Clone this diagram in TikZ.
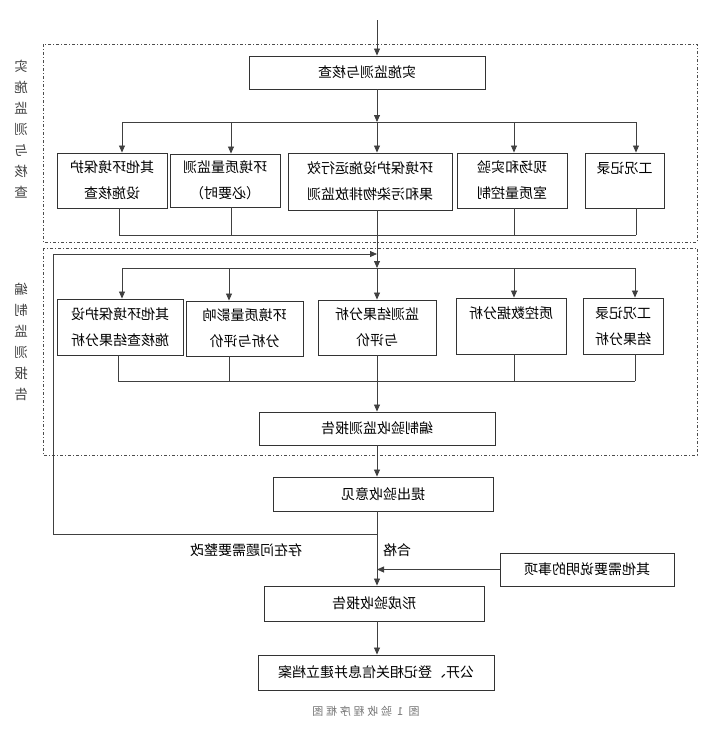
\documentclass[tikz,border=0pt]{standalone}
\usepackage{fontspec}
\setmainfont{Noto Sans CJK SC}
\usetikzlibrary{arrows.meta}
\tikzset{
  caja/.style={draw=black!80, line width=0.9pt, xscale=-1, align=center, inner sep=0pt,
    font=\fontsize{14}{26}\selectfont},
  dos/.style={execute at begin node={\rule{0pt}{23pt}}},
  flecha/.style={-{Triangle[length=7pt,width=6pt]}},
  linea/.style={draw=black!75, line width=0.8pt},
  marco/.style={draw=black!70, line width=0.6pt, dash pattern=on 3pt off 2pt on 1pt off 2pt},
  lado/.style={xscale=-1, align=center, text=black!75, font=\fontsize{13.5}{21}\selectfont},
  rotulo/.style={xscale=-1, font=\fontsize{14}{16}\selectfont},
}
\begin{document}
\begin{tikzpicture}[x=1pt, y=-1pt]
        \useasboundingbox (0,0) rectangle (720,732);
        % Marcos de las dos etapas
        \draw[marco] (43,44) rectangle (697,242);
        \draw[marco] (43,248) rectangle (697,455);
        \node[lado] (l1) at (21,129.5) {实\\施\\监\\测\\与\\核\\查};
        \node[lado] (l2) at (21,341.5) {编\\制\\监\\测\\报\\告};

        % Primera etapa
        \node[caja, minimum width=236pt, minimum height=33pt] (top) at (367,72.5) {实施监测与核查};
        \node[caja, dos, minimum width=110pt, minimum height=55pt] (a1) at (112,180.5) {其他环境保护\\设施核查};
        \node[caja, dos, minimum width=110pt, minimum height=53pt] (b1) at (225,180.5) {环境质量监测\\（必要时）};
        \node[caja, dos, minimum width=164pt, minimum height=57pt] (c1) at (370,181.5) {环境保护设施运行效\\果和污染物排放监测};
        \node[caja, dos, minimum width=110pt, minimum height=55pt] (d1) at (512,180.5) {现场和实验\\室质量控制};
        \node[caja, dos, minimum width=79pt, minimum height=55pt] (e1) at (624.5,180.5) {工况记录\\~};

        \coordinate (ent) at (377,20);
        \draw[linea, flecha] (ent) -- (ent |- top.north);
        \foreach \n/\x in {1/122, 2/231, 3/377, 4/514, 5/636}
            \coordinate (p\n) at (\x,122);
        \foreach \n/\x in {1/119, 2/231, 3/377, 4/514, 5/636}
            \coordinate (q\n) at (\x,235);
        \draw[linea, flecha] (top.south -| ent) -- (p3);
        \draw[linea] (p1) -- (p5);
        \draw[linea] (q1) -- (q5);
        \foreach \n/\c in {1/a1, 2/b1, 3/c1, 4/d1, 5/e1}
            \draw[linea, flecha] (p\n) -- (p\n |- \c.north);
        \foreach \n/\c in {1/a1, 2/b1, 4/d1, 5/e1}
            \draw[linea] (q\n |- \c.south) -- (q\n);

        % Segunda etapa
        \node[caja, dos, minimum width=126pt, minimum height=56pt] (a2) at (120,327) {其他环境保护设\\施核查结果分析};
        \node[caja, dos, minimum width=117pt, minimum height=55pt] (b2) at (244.5,328.5) {环境质量影响\\分析与评价};
        \node[caja, dos, minimum width=118pt, minimum height=55pt] (c2) at (377,327.5) {监测结果分析\\与评价};
        \node[caja, dos, minimum width=110pt, minimum height=56pt] (d2) at (511,326) {质控数据分析\\~};
        \node[caja, dos, minimum width=80pt, minimum height=56pt] (e2) at (623,326) {工况记录\\结果分析};
        \node[caja, minimum width=236pt, minimum height=33pt] (bz) at (377,428.5) {编制验收监测报告};

        \foreach \n/\x in {1/122, 2/229, 3/377, 4/514, 5/635}
            \coordinate (r\n) at (\x,268);
        \foreach \n/\x in {1/118, 2/229, 3/377, 4/514, 5/635}
            \coordinate (s\n) at (\x,381);
        \draw[linea, flecha] (c1.south -| q3) -- (r3);
        \draw[linea] (r1) -- (r5);
        \draw[linea] (s1) -- (s5);
        \foreach \n/\c in {1/a2, 2/b2, 3/c2, 4/d2, 5/e2}
            \draw[linea, flecha] (r\n) -- (r\n |- \c.north);
        \foreach \n/\c in {1/a2, 2/b2, 4/d2, 5/e2}
            \draw[linea] (s\n |- \c.south) -- (s\n);
        \draw[linea, flecha] (c2.south -| s3) -- (s3 |- bz.north);

        % Cierre
        \node[caja, minimum width=220pt, minimum height=34pt] (tc) at (383,494) {提出验收意见};
        \node[caja, minimum width=174pt, minimum height=33pt] (qt) at (587,569.5) {其他需要说明的事项};
        \node[caja, minimum width=220pt, minimum height=35pt] (xc) at (374,603.5) {形成验收报告};
        \node[caja, minimum width=236pt, minimum height=35pt] (gk) at (376,672.5) {公开、登记相关信息并建立档案};
        \node[rotulo] (hg) at (397,550) {合格};
        \node[rotulo] (zg) at (246,550) {存在问题需要整改};
        \node[xscale=-1, text=black!55, font=\fontsize{11}{13}\selectfont\addfontfeature{LetterSpace=25}] (pie) at (366,711) {图 1 验收程序框图};

        \coordinate (ok) at (377,534);
        \coordinate (f1) at (53,534);
        \coordinate (f2) at (53,254);
        \coordinate (f3) at (377,254);
        \draw[linea, flecha] (bz.south -| ok) -- (ok |- tc.north);
        \draw[linea, flecha] (tc.south -| ok) -- (ok |- xc.north);
        \draw[linea, flecha] (ok) -- (f1) -- (f2) -- (f3);
        \draw[linea, flecha] (qt) -- (qt -| ok);
        \draw[linea, flecha] (xc.south -| ok) -- (ok |- gk.north);
\end{tikzpicture}
\end{document}
